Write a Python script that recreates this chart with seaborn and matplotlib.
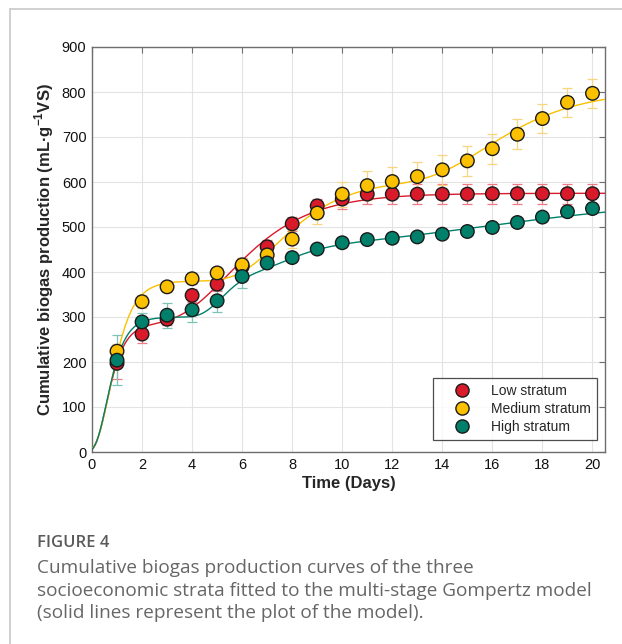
import numpy as np
import pandas as pd
import matplotlib
matplotlib.use("Agg")
import matplotlib.pyplot as plt
from matplotlib.lines import Line2D
import seaborn as sns

# ---------------- data ----------------
days = list(range(1, 21))
strata = ["Low stratum", "Medium stratum", "High stratum"]

low_vals = [197, 262, 295, 348, 373, 412, 456, 507, 547, 562,
            573, 573, 573, 573, 573, 574, 574, 574, 574, 574]
low_err = [35, 20, 12, 15, 15, 20, 15, 15, 15, 22,
           22, 22, 22, 22, 22, 22, 22, 22, 22, 22]

med_vals = [224, 334, 367, 385, 398, 416, 438, 473, 531, 573,
            592, 601, 612, 627, 647, 674, 706, 741, 777, 797]
med_err = [15, 15, 12, 12, 12, 15, 18, 20, 25, 28,
           33, 33, 33, 33, 33, 33, 33, 33, 33, 33]

high_vals = [204, 289, 304, 316, 336, 390, 420, 432, 451, 465,
             472, 475, 478, 484, 490, 499, 510, 522, 534, 541]
high_err = [55, 20, 28, 28, 25, 25, 8, 8, 8, 8,
            8, 8, 8, 8, 8, 8, 8, 8, 8, 8]

# multi-stage Gompertz model parameters (P, Rm, lambda) per stage
low_P, low_Rm, low_lam = [285, 290], [250, 57], [0.15, 3.52]
med_P, med_Rm, med_lam = [380, 225, 200], [269, 52, 34], [0.19, 5.8, 13.6]
high_P, high_Rm, high_lam = [300, 115, 45, 110], [257, 54, 16.6, 7.3], [0.155, 4.39, 7.0, 10.0]

colors = {"Low stratum": "#D91A2A", "Medium stratum": "#FBC000", "High stratum": "#00806A"}
err_colors = {"Low stratum": "#EE7A85", "Medium stratum": "#F8D680", "High stratum": "#7CC4B5"}


def gompertz(t, P, Rm, lam):
    y = np.zeros_like(t)
    for p, r, l in zip(P, Rm, lam):
        y = y + p * np.exp(-np.exp(r * np.e / p * (l - t) + 1))
    return y


t = np.linspace(0, 20.5, 500)
curves = []
for name, (P, R, L) in zip(strata, [(low_P, low_Rm, low_lam), (med_P, med_Rm, med_lam),
                                     (high_P, high_Rm, high_lam)]):
    curves.append(pd.DataFrame({"t": t, "y": gompertz(t, P, R, L), "stratum": name}))
curve_df = pd.concat(curves)

pts = pd.concat([
    pd.DataFrame({"day": days, "val": low_vals, "err": low_err, "stratum": "Low stratum"}),
    pd.DataFrame({"day": days, "val": med_vals, "err": med_err, "stratum": "Medium stratum"}),
    pd.DataFrame({"day": days, "val": high_vals, "err": high_err, "stratum": "High stratum"}),
])

# ---------------- style ----------------
sns.set_style("white")
plt.rcParams["font.family"] = ["Liberation Sans", "DejaVu Sans"]
plt.rcParams["mathtext.fontset"] = "custom"
plt.rcParams["mathtext.rm"] = "Liberation Sans"
plt.rcParams["mathtext.bf"] = "Liberation Sans:bold"

fig = plt.figure(figsize=(6.22, 6.44), dpi=100)
ax = fig.add_axes([92 / 622, 1 - 452 / 644, (605 - 92) / 622, (452 - 47) / 644])

# page frame lines
fig.add_artist(Line2D([10 / 622, 1], [1 - 9 / 644, 1 - 9 / 644], color="#C8C8C8", lw=1.2,
                      transform=fig.transFigure))
fig.add_artist(Line2D([10 / 622, 10 / 622], [0, 1 - 9 / 644], color="#C8C8C8", lw=1.2,
                      transform=fig.transFigure))

# error bars
for name in strata:
    d = pts[pts.stratum == name]
    ax.errorbar(d.day, d.val, yerr=d.err, fmt="none", ecolor=err_colors[name],
                elinewidth=0.9, capsize=3.5, capthick=0.9, zorder=2)

sns.lineplot(data=curve_df, x="t", y="y", hue="stratum", palette=colors, lw=1.0,
             legend=False, ax=ax, zorder=3, sort=False)
sns.scatterplot(data=pts, x="day", y="val", hue="stratum", palette=colors, s=95,
                edgecolor="#1a1a1a", linewidth=1.0, ax=ax, zorder=4, legend=False)

ax.set_xlim(0, 20.5)
ax.set_ylim(0, 900)
ax.set_xticks(range(0, 21, 2))
ax.set_yticks(range(0, 901, 100))
ax.grid(True, color="#E3E3E3", lw=0.8)
ax.set_axisbelow(True)
for s in ax.spines.values():
    s.set_color("#6E6E6E")
    s.set_linewidth(1.0)
ax.tick_params(direction="in", length=4, width=0.8, color="#6E6E6E", top=True, right=True,
               labelsize=10.5, labelcolor="#111111", pad=4)

ax.set_xlabel("Time (Days)", fontsize=12, fontweight="bold", labelpad=3)
ax.set_ylabel(r"Cumulative biogas production (mL·g$^{\mathbf{-1}}$VS)", fontsize=12,
              fontweight="bold", labelpad=4)

handles = [Line2D([], [], marker="o", ls="none", markersize=9.5, markerfacecolor=colors[n],
                  markeredgecolor="#1a1a1a", markeredgewidth=1.0, label=n) for n in strata]
leg = ax.legend(handles=handles, loc="lower right", bbox_to_anchor=(0.984, 0.03), fontsize=10,
                frameon=True, fancybox=False, edgecolor="#222222", handletextpad=0.4,
                borderpad=0.45, labelspacing=0.28, handlelength=3.3, borderaxespad=0.0)
leg.get_frame().set_linewidth(0.9)

# caption
cap_font = ["Open Sans", "DejaVu Sans"]
fig.text(37 / 622, 1 - 543 / 644, "FIGURE 4", fontsize=12, color="#5a5a5a", family=cap_font,
         fontweight="semibold", va="center")
cap = ["Cumulative biogas production curves of the three",
       "socioeconomic strata fitted to the multi-stage Gompertz model",
       "(solid lines represent the plot of the model)."]
for i, line in enumerate(cap):
    fig.text(37 / 622, 1 - (568 + 22.5 * i) / 644, line, fontsize=13.7, color="#666666",
             family=cap_font, va="center")

fig.savefig("out.png", dpi=100)
